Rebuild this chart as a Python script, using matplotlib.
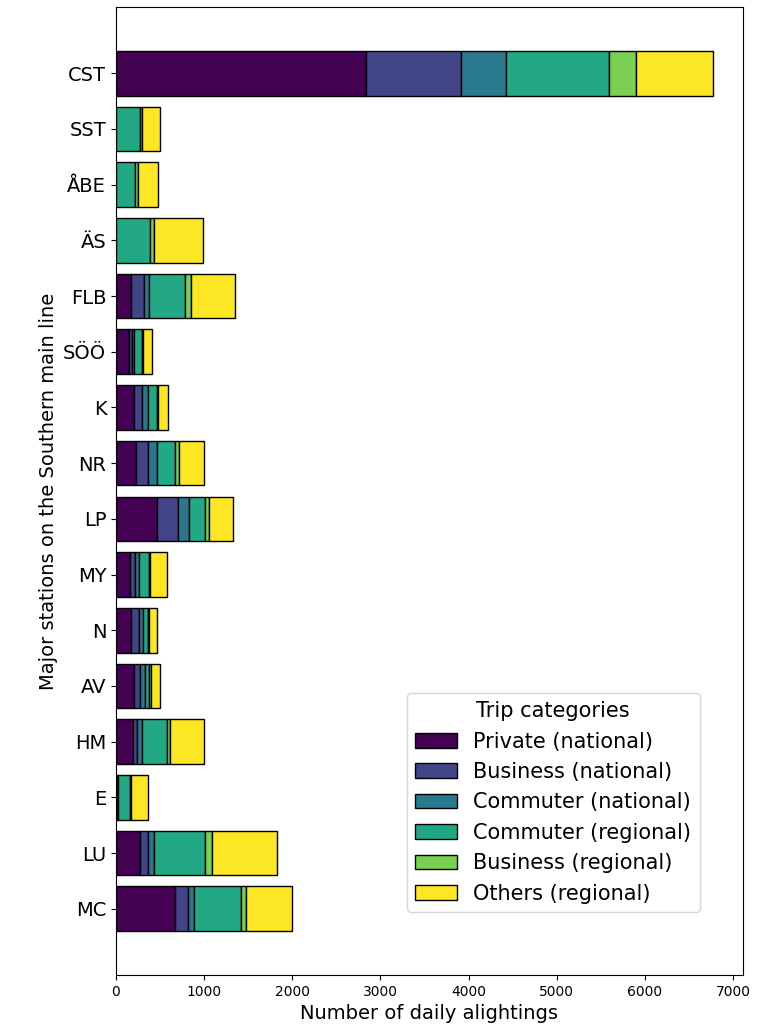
import numpy as np
import matplotlib
matplotlib.use("Agg")
import matplotlib.pyplot as plt

stations = ["CST", "SST", "ÅBE", "ÄS", "FLB", "SÖÖ", "K", "NR", "LP",
            "MY", "N", "AV", "HM", "E", "LU", "MC"]

categories = ["Private (national)", "Business (national)", "Commuter (national)",
              "Commuter (regional)", "Business (regional)", "Others (regional)"]

private_national = [2840, 0, 0, 0, 170, 150, 205, 225, 460, 160, 175, 205, 190, 20, 270, 665]
business_national = [1075, 0, 0, 0, 150, 35, 95, 135, 240, 60, 85, 70, 45, 0, 90, 155]
commuter_national = [505, 0, 0, 0, 55, 15, 60, 110, 130, 45, 50, 50, 55, 5, 75, 70]
commuter_regional = [1170, 270, 220, 390, 405, 90, 100, 205, 185, 110, 55, 55, 285, 135, 580, 530]
business_regional = [305, 25, 25, 40, 70, 15, 15, 35, 35, 15, 10, 15, 40, 15, 70, 55]
others_regional = [880, 200, 237, 560, 500, 100, 115, 290, 280, 185, 85, 105, 385, 185, 740, 520]

series = [private_national, business_national, commuter_national,
          commuter_regional, business_regional, others_regional]

colors = plt.cm.viridis(np.linspace(0, 1, len(categories)))

fig = plt.figure(figsize=(7.65, 10.24), dpi=100)
ax = fig.add_axes([116 / 765, 1 - 975 / 1024, 627 / 765, 968 / 1024])

y = np.arange(len(stations))
left = np.zeros(len(stations))
for values, label, color in zip(series, categories, colors):
    vals = np.array(values, dtype=float)
    ax.barh(y, vals, left=left, height=0.8, color=color,
            edgecolor="black", linewidth=1, label=label)
    left += vals

ax.set_yticks(y)
ax.set_yticklabels(stations, fontsize=14)
ax.invert_yaxis()
ax.tick_params(axis="x", labelsize=10)
ax.set_xlabel("Number of daily alightings", fontsize=14)
ax.set_ylabel("Major stations on the Southern main line", fontsize=14)

ax.legend(title="Trip categories", fontsize=15, title_fontsize=15,
          labelspacing=0.5, loc="lower right",
          bbox_to_anchor=(0.931, 0.065), borderaxespad=0)

fig.savefig("out.png", dpi=100)
